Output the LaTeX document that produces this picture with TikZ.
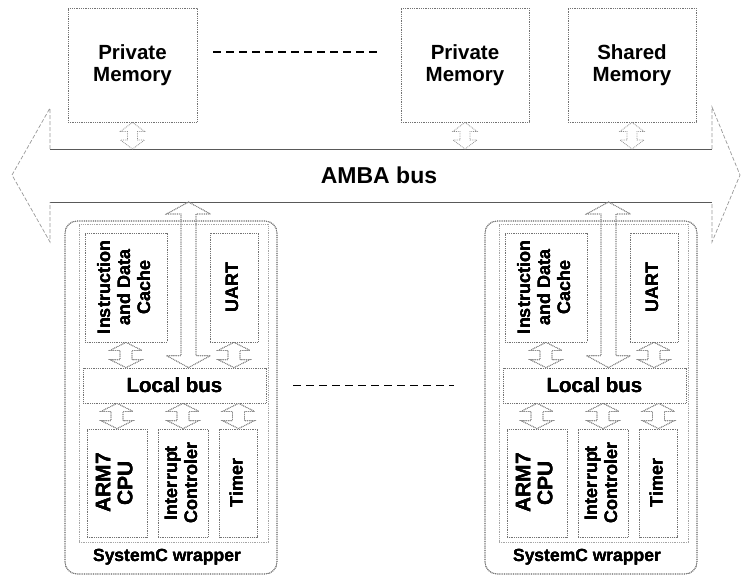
\documentclass[tikz,border=0pt]{standalone}
\usepackage{fontspec}
\setmainfont{Liberation Sans}
\usepackage{graphicx}
\usetikzlibrary{calc}

% hohler Doppelpfeil: [Stil]{oben}{unten}{Kopf}{Schaft}{Kopflaenge}
\newcommand\blockarrow[6][]{%
  \draw[hollow,#1] let \p1=#2, \p2=#3 in
    (\x1,\y1) -- (\x1+#4pt,\y1-#6pt) -- (\x1+#5pt,\y1-#6pt) --
    (\x1+#5pt,\y2+#6pt) -- (\x1+#4pt,\y2+#6pt) -- (\x1,\y2) --
    (\x1-#4pt,\y2+#6pt) -- (\x1-#5pt,\y2+#6pt) --
    (\x1-#5pt,\y1-#6pt) -- (\x1-#4pt,\y1-#6pt) -- cycle;}
\newcommand\vtext[1]{\rotatebox{90}{\begin{tabular}{@{}c@{}}#1\end{tabular}}}

\begin{document}
\begin{tikzpicture}[x=1pt,y=-1pt,
  box/.style={draw=black!55, densely dotted, line width=.8pt, inner sep=0pt},
  hollow/.style={draw=black!45, densely dotted, line width=.8pt},
  busline/.style={draw=black!65, line width=.9pt},
  bushead/.style={draw=black!40, dash pattern=on 4pt off 2pt, line width=.7pt},
  gap/.style={dash pattern=on 8pt off 5pt, line width=1.3pt},
  big/.style={font=\fontsize{20.5}{22}\selectfont\bfseries, align=center},
  small/.style={font=\fontsize{18}{20}\selectfont\bfseries},
  cpufont/.style={font=\fontsize{21}{22}\selectfont\bfseries}]
\useasboundingbox (0,0) rectangle (742,576);
% Speicher
\node[box, big, minimum width=129, minimum height=114] (mem1) at (132.5,65) {Private\\Memory};
\node[box, big, minimum width=128, minimum height=114] (mem2) at (465,65) {Private\\Memory};
\node[box, big, minimum width=128, minimum height=114] (mem3) at (632,65) {Shared\\Memory};
\draw[gap] ([shift={(16,-13)}]mem1.east) -- ([shift={(-22,-13)}]mem2.west);
% AMBA Bus
\draw[busline] (50,149) -- (712,149) (50,202) -- (712,202);
\draw[bushead] (50,149) -- (50,108) -- (12,175) -- (50,242) -- (50,202)
  (712,149) -- (712,107) -- (740,175) -- (712,242) -- (712,202);
\node[font=\fontsize{23}{26}\selectfont\bfseries] (amba) at (379,175.5) {AMBA bus};
\coordinate (bustop) at (376,149);
\coordinate (busbot) at (376,202);
\foreach \m in {mem1,mem2,mem3}
  \blockarrow{(\m.south)}{(\m.south |- bustop)}{12}{5}{9}
% SystemC Huellen
\foreach \s/\dx in {L/0,R/420}{
  \node[box, rounded corners=12, minimum width=212, minimum height=353] (wrap\s) at (\dx+171,397.5) {};
  \node[box, draw=black!35, minimum width=189, minimum height=318] (inner\s) at (\dx+173.5,383) {};
  \node[box, small, minimum width=82, minimum height=109] (cache\s) at (\dx+126,287.5) {\vtext{Instruction\\and Data\\Cache}};
  \node[box, small, minimum width=48, minimum height=109] (uart\s) at (\dx+234,287.5) {\vtext{UART}};
  \node[box, big, minimum width=183, minimum height=35] (lbus\s) at (\dx+174.5,385.5) {Local bus};
  \node[box, cpufont, minimum width=60, minimum height=108] (cpu\s) at (\dx+117,483) {\vtext{ARM7\\CPU}};
  \node[box, small, minimum width=50, minimum height=108] (irq\s) at (\dx+183,483) {\vtext{Interrupt\\Controler}};
  \node[box, small, minimum width=38, minimum height=108] (timer\s) at (\dx+238.5,483) {\vtext{Timer}};
  \node[font=\fontsize{17.5}{20}\selectfont\bfseries] (lab\s) at (\dx+167,557) {SystemC wrapper};
  \coordinate (up\s) at ($(cache\s.east)!.5!(uart\s.west)$);
  \blockarrow{(up\s |- busbot)}{(up\s |- lbus\s.north)}{22}{7.5}{12}
  \blockarrow{(cache\s.south)}{(cache\s.south |- lbus\s.north)}{16}{6}{8}
  \blockarrow{(uart\s.south)}{(uart\s.south |- lbus\s.north)}{16}{6}{8}
  \blockarrow{(cpu\s.north |- lbus\s.south)}{(cpu\s.north)}{16}{6}{8}
  \blockarrow{(irq\s.north |- lbus\s.south)}{(irq\s.north)}{16}{6}{8}
  \blockarrow{(timer\s.north |- lbus\s.south)}{(timer\s.north)}{16}{6}{8}
}
\draw[gap] ([xshift=27]lbusL.east) -- ([xshift=-49]lbusR.west);
\end{tikzpicture}
\end{document}
